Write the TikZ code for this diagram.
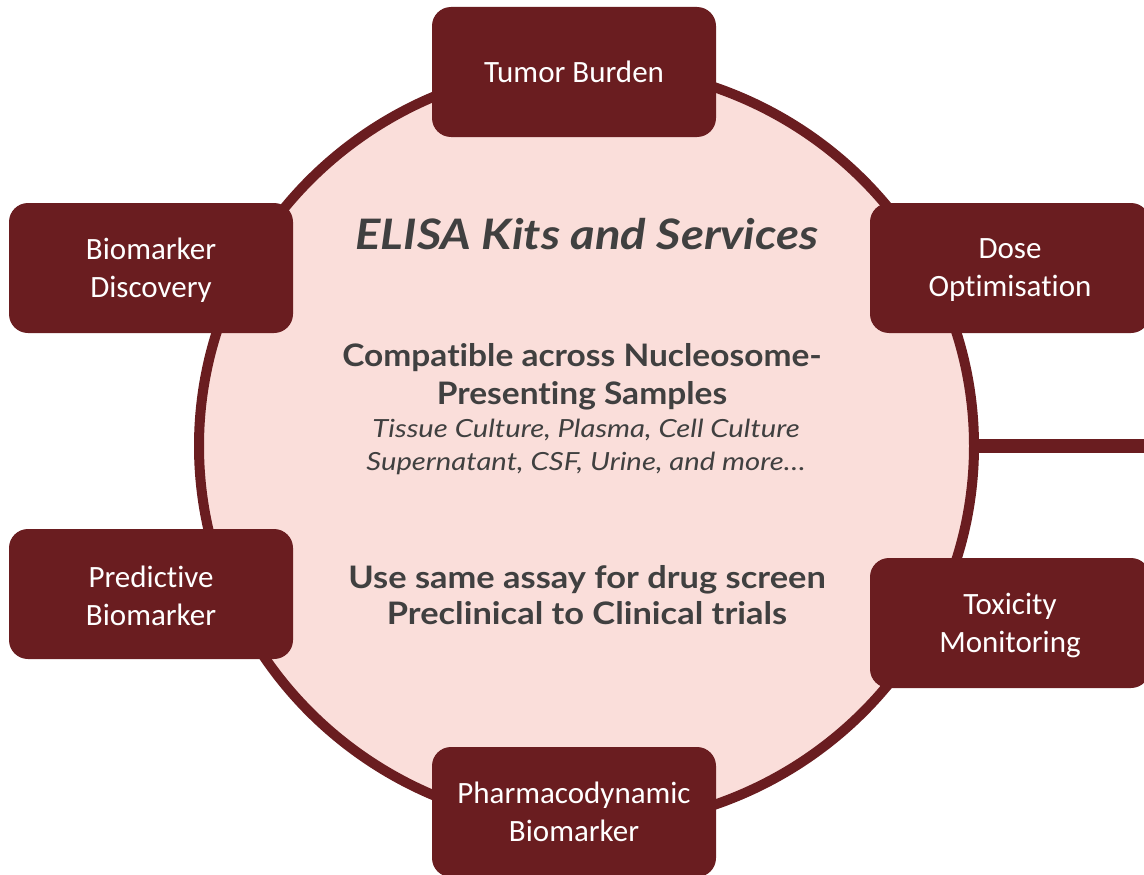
\documentclass[tikz,border=0pt]{standalone}
\usepackage{fontspec}
\setmainfont[Ligatures=NoCommon]{Carlito}
\newfontfamily\titlefont[FakeStretch=1.125,Ligatures=NoCommon]{Lato}
\newfontfamily\compatfont[FakeStretch=1.08,Ligatures=NoCommon]{Lato}
\newfontfamily\samplefont[FakeStretch=1.17,Ligatures=NoCommon]{Lato}
\newfontfamily\assayfont[FakeStretch=1.11,Ligatures=NoCommon]{Lato}
\definecolor{boxred}{HTML}{6A1D20}
\definecolor{ringfill}{HTML}{FADEDA}
\definecolor{txtgray}{HTML}{404040}
\begin{document}
\begin{tikzpicture}[x=1pt,y=-1pt,
  topic/.style={draw=none, fill=boxred, rounded corners=19pt, text=white,
    minimum width=284pt, minimum height=130pt, inner sep=0pt, align=center,
    font=\fontsize{31}{38}\selectfont},
  topictext/.style={text=white, align=center, inner sep=0pt, yshift=-2pt,
    font=\fontsize{31}{38}\selectfont},
  ring/.style={draw=boxred, fill=ringfill, line width=10pt},
  link/.style={draw=boxred, line width=14pt},
  heading/.style={text=txtgray, align=center, inner sep=0pt}
]
\useasboundingbox (0,0) rectangle (1144,875);
\path[ring] (586.5,446) ellipse [x radius=387.5, y radius=380];
\node[inner sep=0pt, minimum width=775pt, minimum height=760pt] (c) at (586.5,446) {};
\coordinate (edge) at (1150,446);
\draw[link] (c.east) -- (edge);

\node[topic] (tb) at (574,72) {Tumor Burden};
\node[topic, label={[topictext]center:Biomarker\\Discovery}] (bd) at (151,268) {};
\node[topic, minimum width=280pt, label={[topictext]center:Dose\\Optimisation}] (do) at (1010,268) {};
\node[topic, label={[topictext]center:Predictive\\Biomarker}] (pb) at (151,594) {};
\node[topic, minimum width=280pt, label={[topictext]center:Toxicity\\Monitoring}] (tm) at (1010,623) {};
\node[topic] (pd) at (574,812) {Pharmacodynamic\\Biomarker};

\node[heading, font=\titlefont\fontsize{42}{48}\selectfont\bfseries\itshape] (title) at (587,234) {ELISA Kits and Services};
\node[heading, font=\compatfont\fontsize{31}{38}\selectfont\bfseries] (compat) at (582,377) {Compatible across Nucleosome-\\Presenting Samples};
\node[heading, font=\samplefont\fontsize{25}{33}\selectfont\itshape] (samples) at (586,447) {Tissue Culture, Plasma, Cell Culture\\Supernatant, CSF, Urine, and more\dots};
\node[heading, font=\assayfont\fontsize{31}{36}\selectfont\bfseries] (assay) at (587,595) {Use same assay for drug screen\\Preclinical to Clinical trials};
\end{tikzpicture}
\end{document}
